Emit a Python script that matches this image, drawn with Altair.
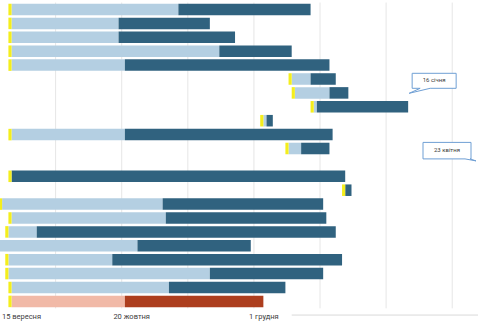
import altair as alt
import pandas as pd

# ---------------- data ----------------
row_ids = list(range(1, 23))
# first day of each row (yellow marker), None = empty row
start_dates = [
    "2014-09-11", "2014-09-11", "2014-09-11", "2014-09-11", "2014-09-11",
    "2014-12-09", "2014-12-10", "2014-12-16", "2014-11-30", "2014-09-11",
    "2014-12-08", None, "2014-09-11", "2014-12-26", "2014-09-08",
    "2014-09-11", "2014-09-10", "2014-09-06", "2014-09-10", "2014-09-10",
    "2014-09-11", "2014-09-11",
]
# end of the first (light) phase
split_dates = [
    "2014-11-04", "2014-10-16", "2014-10-16", "2014-11-17", "2014-10-18",
    "2014-12-16", "2014-12-22", "2014-12-18", "2014-12-02", "2014-10-18",
    "2014-12-13", None, "2014-09-12", "2014-12-27", "2014-10-30",
    "2014-10-31", "2014-09-20", "2014-10-22", "2014-10-14", "2014-11-14",
    "2014-11-01", "2014-10-18",
]
# end of the second (dark) phase
end_dates = [
    "2014-12-16", "2014-11-14", "2014-11-22", "2014-12-10", "2014-12-22",
    "2014-12-24", "2014-12-28", "2015-01-16", "2014-12-04", "2014-12-23",
    "2014-12-22", None, "2014-12-27", "2014-12-29", "2014-12-20",
    "2014-12-21", "2014-12-24", "2014-11-27", "2014-12-26", "2014-12-20",
    "2014-12-08", "2014-12-01",
]
row_series = ["blue"] * 21 + ["red"]

grid_dates = ["2014-09-26", "2014-10-17", "2014-11-07", "2014-11-28",
              "2014-12-19", "2015-01-09", "2015-01-30"]

tick_dates = ["2014-09-15", "2014-10-20", "2014-12-01"]
tick_labels = ["15 вересня", "20 жовтня", "1 грудня"]

callout_dates = ["2015-01-16", "2015-04-23"]
callout_rows = [8, 12]
callout_texts = ["16 січня", "23 квітня"]

domain_start = "2014-09-08T07:52:00Z"
domain_end = "2015-02-07T04:34:00Z"
axis_line_start = "2014-12-10"

seg_domain = ["marker", "blue_early", "blue_late", "red_early", "red_late"]
seg_colors = ["#f4ee1c", "#b4cfe2", "#30627f", "#f1b9a7", "#ad3e1e"]

# ---------------- build tables ----------------
recs = []
for r, s, m, e, ser in zip(row_ids, start_dates, split_dates, end_dates, row_series):
    if s is None:
        continue
    s_ts = pd.Timestamp(s)
    mk_end = (s_ts + pd.Timedelta(days=1)).strftime("%Y-%m-%d")
    recs.append({"row": r, "x": s, "x2": mk_end, "seg": "marker", "o": 2})
    if pd.Timestamp(m) > pd.Timestamp(mk_end):
        recs.append({"row": r, "x": mk_end, "x2": m, "seg": f"{ser}_early", "o": 0})
    recs.append({"row": r, "x": m, "x2": e, "seg": f"{ser}_late", "o": 1})
bars_df = pd.DataFrame(recs)

grid_df = pd.DataFrame({"x": grid_dates})
axis_df = pd.DataFrame({"x": [axis_line_start], "x2": [domain_end]})


def ms(d):
    t = pd.Timestamp(d)
    if t.tzinfo is None:
        t = t.tz_localize("UTC")
    return int(t.value // 10**6)


label_map = ", ".join(f"'{d}': '{l}'" for d, l in zip(tick_dates, tick_labels))
label_expr = "{" + label_map + "}[utcFormat(datum.value, '%Y-%m-%d')]"

xscale = alt.Scale(type="utc", domain=[ms(domain_start), ms(domain_end)],
                   clamp=True, nice=False)
xaxis = alt.Axis(values=[ms(d) for d in tick_dates], labelExpr=label_expr,
                 grid=False, domain=False, ticks=False, labelFont="Roboto",
                 labelFontSize=7.5, labelColor="#404040", labelPadding=4,
                 labelFlush=False, labelOverlap=False, labelBound=False)
yscale = alt.Scale(domain=row_ids, paddingInner=0.17, paddingOuter=0.085)


def X(field):
    return alt.X(f"{field}:T", scale=xscale, axis=xaxis, title=None)


def Y():
    return alt.Y("row:O", scale=yscale, axis=None)


W, H = 478, 305.8

grid = alt.Chart(grid_df).mark_rule(color="#e6e6e6", strokeWidth=1).encode(x=X("x"))

bars = alt.Chart(bars_df).mark_bar(cornerRadius=0).encode(
    x=X("x"),
    x2="x2:T",
    y=Y(),
    color=alt.Color("seg:N", scale=alt.Scale(domain=seg_domain, range=seg_colors), legend=None),
    order=alt.Order("o:Q"),
)

axis_line = alt.Chart(axis_df).mark_rule(color="#d9d9d9", strokeWidth=1).encode(
    x=X("x"), x2="x2:T", y=alt.value(H + 6.7)
)

shapes = [
    "M4 -33.5 H48 V-18.5 H22 L1 -13.5 L12 -18.5 H4 Z",
    "M-55 -20 H-7 V-3.5 H-8 L-2 -1.5 L-13 -3.5 H-55 Z",
]
text_offsets = [(26, -27), (-31, -12.5)]

layers = [grid, bars, axis_line]
for i in range(len(callout_texts)):
    cdf = pd.DataFrame({"x": [callout_dates[i]], "row": [callout_rows[i]],
                        "label": [callout_texts[i]]})
    box = alt.Chart(cdf).mark_point(
        shape=shapes[i], size=4, filled=True, fill="white", stroke="#6f9fd4",
        strokeWidth=1, opacity=1
    ).encode(x=X("x"), y=Y())
    txt = alt.Chart(cdf).mark_text(
        dx=text_offsets[i][0], dy=text_offsets[i][1], fontSize=6, font="Roboto",
        color="#404040", align="center", baseline="middle"
    ).encode(x=X("x"), y=Y(), text="label:N")
    layers += [box, txt]

chart = alt.layer(*layers).properties(
    width=W, height=H,
    autosize=alt.AutoSizeParams(type="none"),
    padding={"left": 0, "right": 0, "top": 2.55, "bottom": 323 - 2.55 - H},
).configure_view(stroke=None)

chart.save("out.html", embed_options={"renderer": "svg", "actions": False})
